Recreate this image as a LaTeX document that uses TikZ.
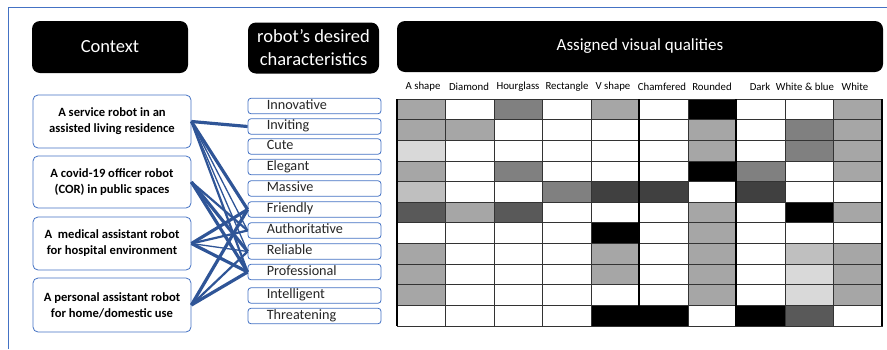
\documentclass[tikz,border=0pt]{standalone}
\usepackage{fontspec}
\setmainfont{Carlito}
\definecolor{framec}{RGB}{68,114,196}
\definecolor{linkc}{RGB}{47,85,151}
\definecolor{boxc}{RGB}{68,114,196}
\definecolor{cw}{RGB}{255,255,255}
\definecolor{ca}{RGB}{166,166,166}
\definecolor{cd}{RGB}{128,128,128}
\definecolor{cl}{RGB}{217,217,217}
\definecolor{cb}{RGB}{191,191,191}
\definecolor{cm}{RGB}{89,89,89}
\definecolor{ck}{RGB}{64,64,64}
\definecolor{cx}{RGB}{0,0,0}
\tikzset{
  hdr/.style={fill=black, rounded corners=8pt, text=white, font=\fontsize{18.5}{23}\selectfont, align=center, inner sep=0pt},
  ctxbox/.style={draw=boxc, line width=0.8pt, rounded corners=5pt, fill=white, minimum width=158pt, align=center, font=\bfseries\fontsize{12.6}{16}\selectfont, inner sep=0pt},
  chbox/.style={draw=boxc, line width=0.8pt, rounded corners=3pt, fill=white, minimum width=133pt, minimum height=15.5pt, inner ysep=0pt, inner xsep=0pt},
  chtext/.style={anchor=west, inner sep=0pt, font=\fontsize{14.2}{14.5}\selectfont, text=black!85},
  colhdr/.style={font=\fontsize{10.8}{11}\selectfont, inner sep=0pt},
  thick link/.style={draw=linkc, line width=3.2pt},
  thin link/.style={draw=linkc, line width=1.3pt},
  mid link/.style={draw=linkc, line width=2.2pt},
  cellline/.style={draw=black!80, line width=0.7pt},
  sepline/.style={draw=black, line width=2.6pt}
}
\begin{document}
\begin{tikzpicture}[x=1pt,y=-1pt]
\useasboundingbox (0,0) rectangle (887,349);
\draw[framec, line width=0.9pt] (8,349) -- (8,7) -- (887,7);

% headers
\node[hdr, minimum width=156pt, minimum height=52pt] (h1) at (110,47) {Context};
\node[hdr, minimum width=131pt, minimum height=51pt] (h2) at (313.5,48) {robot’s desired\\characteristics};
\node[hdr, minimum width=486pt, minimum height=51pt, font=\fontsize{17}{18}\selectfont] (h3) at (640,46.5) {Assigned visual qualities};

% context boxes
\node[ctxbox, minimum height=53pt] (c1) at (112,121.5) {A service robot in an\\assisted living residence};
\node[ctxbox, minimum height=52pt] (c2) at (112,182) {A covid-19 officer robot\\(COR) in public spaces};
\node[ctxbox, minimum height=53pt] (c3) at (112,243.5) {A~ medical assistant robot\\for hospital environment};
\node[ctxbox, minimum height=54pt] (c4) at (112,305) {A personal assistant robot\\for home/domestic use};

% characteristic boxes
\foreach \nm/\yy [count=\i] in {Innovative/106, Inviting/126.5, Cute/146.5, Elegant/167, Massive/188.5, Friendly/209.5, Authoritative/230.5, Reliable/251.5, Professional/272, Intelligent/295.5, Threatening/316} {
  \node[chbox] (k\i) at (314.5,\yy) {};
  \node[chtext] (t\i) at ([xshift=19pt,yshift=-0.5pt]k\i.west) {\nm\strut};
}

% links
\draw[thick link] (c1.east) -- (k2.west);
\draw[thick link] (c1.east) -- (k6.west);
\draw[thin link] (c1.east) -- (k7.west);
\draw[thin link] (c1.east) -- (k8.west);
\draw[mid link] (c1.east) -- (k9.west);
\draw[mid link] (c2.east) -- (k7.west);
\draw[thick link] (c2.east) -- (k8.west);
\draw[thick link] (c2.east) -- (k9.west);
\draw[thick link] (c3.east) -- (k6.west);
\draw[mid link] (c3.east) -- (k7.west);
\draw[thin link] (c3.east) -- (k8.west);
\draw[thick link] (c3.east) -- (k9.west);
\draw[thick link] (c4.east) -- (k6.west);
\draw[mid link] (c4.east) -- (k8.west);
\draw[thick link] (c4.east) -- (k9.west);

% column headers
\foreach \txt/\xx [count=\j] in {A shape/423, Diamond/469, Hourglass/518, Rectangle/567, V shape/613, Chamfered/662, Rounded/712, Dark/760, White \& blue/805, White/855} {
  \node[colhdr] (q\j) at (\xx,87) {\txt};
}

% grid
\foreach \rowlist [count=\r] in {
 {a,w,d,w,a,w,x,w,w,a},
 {a,a,w,w,w,w,a,w,d,a},
 {l,w,w,w,w,w,a,w,d,a},
 {a,w,d,w,w,w,x,d,w,a},
 {b,w,w,d,k,k,w,k,w,w},
 {m,a,m,w,w,w,a,w,x,a},
 {w,w,w,w,x,w,a,w,w,w},
 {a,w,w,w,a,w,a,w,b,a},
 {a,w,w,w,a,w,a,w,l,a},
 {a,w,w,w,w,w,a,w,l,a},
 {w,w,w,w,x,x,w,x,m,w}} {
  \foreach \c [count=\j] in \rowlist {
    \path[cellline, fill=c\c] ({397+(\j-1)*48.5},{99+(\r-1)*20.64}) rectangle ++(48.5,20.64);
  }
}
\foreach \xx in {397,639,736,882} {
  \draw[sepline] (\xx,99) -- (\xx,326);
}
\end{tikzpicture}
\end{document}
